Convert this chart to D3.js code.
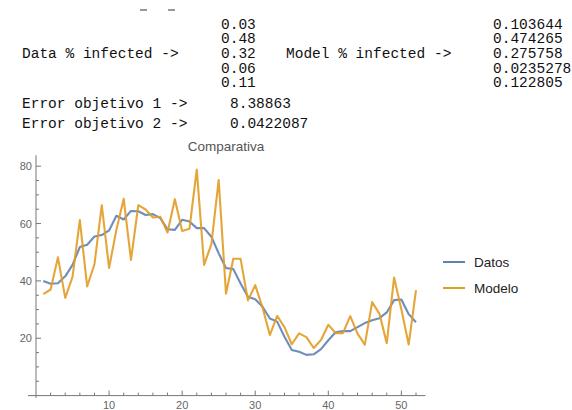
<!DOCTYPE html>
<html><head><meta charset="utf-8">
<script src="https://cdn.jsdelivr.net/npm/d3@7/dist/d3.min.js"></script>
<style>body{margin:0;background:#fff}svg{display:block}</style>
</head><body>
<script>
const weeks = d3.range(1, 53);
const datos = [40, 39, 39.2, 41.6, 45.6, 51.8, 52.6, 55.5, 56, 57.6,
  62.7, 61.4, 64.4, 64.3, 63, 63.3, 61.9, 58, 57.8, 61.3,
  60.7, 58.4, 58.4, 55.4, 49.6, 44.5, 44.1, 39.1, 34.5, 33.6,
  31, 26.9, 25.8, 20.5, 15.9, 15.3, 14.2, 14.4, 16.2, 19.3,
  22.1, 22.5, 22.5, 23.9, 25.3, 26.3, 27, 29, 33.3, 33.5, 28.4, 25.6];
const modelo = [35.4, 37, 48.2, 34.1, 41.4, 61.2, 38.1, 45.8, 66.4, 44.5,
  57.8, 68.6, 47.3, 66.4, 64.9, 62.1, 62.4, 56.9, 68.5, 57.4,
  58.2, 78.8, 45.6, 52.8, 75.2, 35.5, 47.7, 47.7, 33.2, 38.5,
  30.7, 21.1, 27.8, 23.9, 17.9, 21.7, 20.4, 16.6, 19.4, 24.7,
  21.8, 21.8, 27.7, 21.6, 17.8, 32.6, 28.5, 18.3, 41.2, 30, 17.8, 36.8];
const seriesNames = ["Datos", "Modelo"];
const dataInfected = ["0.03", "0.48", "0.32", "0.06", "0.11"];
const modelInfected = ["0.103644", "0.474265", "0.275758", "0.0235278", "0.122805"];
const errorLabels = ["Error objetivo 1 ->", "Error objetivo 2 ->"];
const errorValues = ["8.38863", "0.0422087"];
const xTicks = [10, 20, 30, 40, 50];
const yTicks = [20, 40, 60, 80];
const title = "Comparativa";

const W = 572, H = 410;
const svg = d3.select("body").append("svg").attr("width", W).attr("height", H);

// header text (monospace)
const mono = "'Liberation Mono', 'DejaVu Sans Mono', monospace";
const hdr = svg.append("g").attr("font-family", mono).attr("font-size", "14.5px").attr("fill", "#111");
const rowY = i => 28.5 + i * 14.7;
hdr.append("text").attr("x", 22).attr("y", rowY(2)).text("Data % infected ->");
hdr.append("text").attr("x", 286).attr("y", rowY(2)).text("Model % infected ->");
hdr.selectAll("text.dv").data(dataInfected).join("text").attr("class", "dv")
  .attr("x", 221).attr("y", (d, i) => rowY(i)).text(d => d);
hdr.selectAll("text.mv").data(modelInfected).join("text").attr("class", "mv")
  .attr("x", 493).attr("y", (d, i) => rowY(i)).text(d => d);
hdr.selectAll("text.el").data(errorLabels).join("text").attr("class", "el")
  .attr("x", 22).attr("y", (d, i) => 107.8 + i * 20).text(d => d);
hdr.selectAll("text.ev").data(errorValues).join("text").attr("class", "ev")
  .attr("x", 230).attr("y", (d, i) => 107.8 + i * 20).text(d => d);
// small cut-off remnants at very top
svg.append("g").attr("stroke", "#555").attr("stroke-width", 1.2)
  .selectAll("line").data([140, 168]).join("line")
  .attr("x1", d => d).attr("x2", d => d + 7).attr("y1", 10).attr("y2", 10);

// chart
const x = d3.scaleLinear().domain([0, 52]).range([36, 416]);
const y = d3.scaleLinear().domain([0, 80]).range([395.6, 166.2]);
const axisColor = "#777";
const labelColor = "#666";
const g = svg.append("g");

g.append("line").attr("x1", x(-1.1)).attr("x2", x(53.3)).attr("y1", y(0)).attr("y2", y(0))
  .attr("stroke", axisColor).attr("stroke-width", 1);
g.append("line").attr("x1", x(0)).attr("x2", x(0)).attr("y1", y(-0.8)).attr("y2", y(83.8))
  .attr("stroke", axisColor).attr("stroke-width", 1);

const xMinor = d3.range(2, 53, 2).filter(v => v % 10 !== 0);
g.selectAll("line.xmaj").data(xTicks).join("line").attr("class", "xmaj")
  .attr("x1", d => x(d)).attr("x2", d => x(d)).attr("y1", y(0)).attr("y2", y(0) - 5)
  .attr("stroke", axisColor);
g.selectAll("line.xmin").data(xMinor).join("line").attr("class", "xmin")
  .attr("x1", d => x(d)).attr("x2", d => x(d)).attr("y1", y(0)).attr("y2", y(0) - 3)
  .attr("stroke", axisColor);
g.selectAll("text.xl").data(xTicks).join("text").attr("class", "xl")
  .attr("x", d => x(d)).attr("y", 409).attr("text-anchor", "middle")
  .attr("font-family", "'Liberation Sans', Arial, sans-serif").attr("font-size", "11px")
  .attr("fill", labelColor).text(d => d);

const yMinor = d3.range(5, 84, 5).filter(v => v % 20 !== 0);
g.selectAll("line.ymaj").data(yTicks).join("line").attr("class", "ymaj")
  .attr("x1", x(0)).attr("x2", x(0) + 5).attr("y1", d => y(d)).attr("y2", d => y(d))
  .attr("stroke", axisColor);
g.selectAll("line.ymin").data(yMinor).join("line").attr("class", "ymin")
  .attr("x1", x(0)).attr("x2", x(0) + 3).attr("y1", d => y(d)).attr("y2", d => y(d))
  .attr("stroke", axisColor);
g.selectAll("text.yl").data(yTicks).join("text").attr("class", "yl")
  .attr("x", x(0) - 4).attr("y", d => y(d) + 4).attr("text-anchor", "end")
  .attr("font-family", "'Liberation Sans', Arial, sans-serif").attr("font-size", "11px")
  .attr("fill", labelColor).text(d => d);

// title
svg.append("text").attr("x", 226).attr("y", 151).attr("text-anchor", "middle")
  .attr("font-family", "'Liberation Sans', Arial, sans-serif").attr("font-size", "13.5px")
  .attr("fill", "#555").text(title);

// lines
const colors = ["#5E81B5", "#E19C24"];
const line = d3.line().x((d, i) => x(weeks[i])).y(d => y(d));
[datos, modelo].forEach((s, k) => {
  g.append("path").datum(s).attr("d", line).attr("fill", "none")
    .attr("stroke", colors[k]).attr("stroke-width", 2.1).attr("stroke-opacity", 0.9)
    .attr("stroke-linejoin", "round");
});

// legend
const leg = svg.append("g");
seriesNames.forEach((n, k) => {
  const ly = 262 + k * 26;
  leg.append("line").attr("x1", 443).attr("x2", 465).attr("y1", ly).attr("y2", ly)
    .attr("stroke", colors[k]).attr("stroke-width", 2);
  leg.append("text").attr("x", 474).attr("y", ly + 5)
    .attr("font-family", "'Liberation Sans', Arial, sans-serif").attr("font-size", "13.5px")
    .attr("fill", "#222").text(n);
});
</script>
</body></html>
